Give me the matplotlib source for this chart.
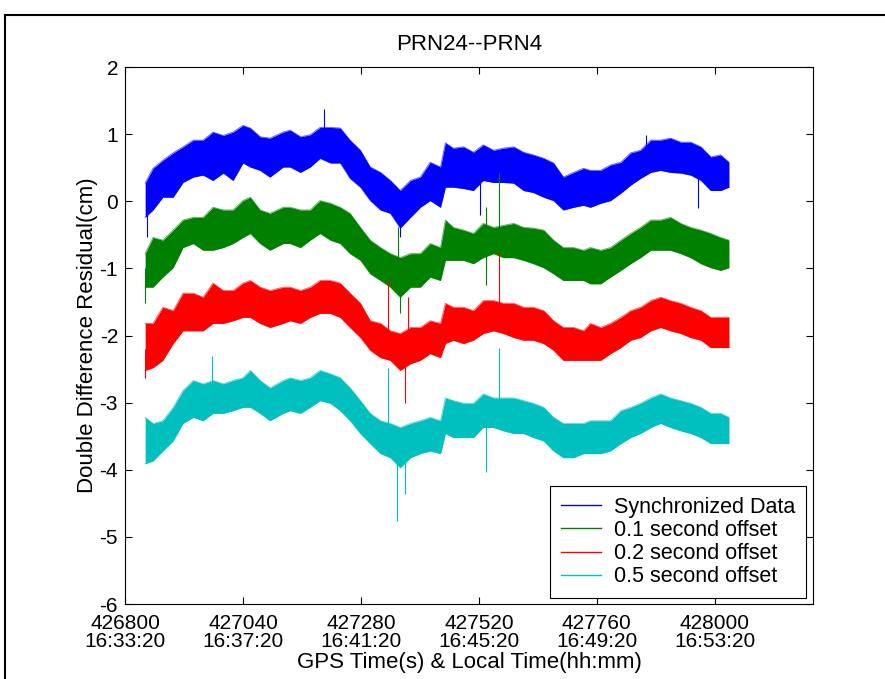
import matplotlib.pyplot as plt
from matplotlib.patches import Rectangle
import numpy as np

plt.rcParams['font.family'] = ['Liberation Sans', 'DejaVu Sans']
plt.rcParams['axes.unicode_minus'] = False

# GPS time (s) of the sampled columns
gps_time = [426841, 426857, 426877, 426898, 426918, 426939, 426959, 426979, 427000, 427020,
            427040, 427055, 427075, 427095, 427122, 427136, 427157, 427177, 427197, 427218,
            427238, 427258, 427279, 427299, 427320, 427340, 427360, 427381, 427401, 427421,
            427442, 427452, 427468, 427489, 427509, 427529, 427550, 427570, 427591, 427611,
            427631, 427652, 427672, 427692, 427713, 427733, 427747, 427768, 427788, 427809,
            427829, 427849, 427870, 427890, 427910, 427931, 427951, 427972, 427992, 428012,
            428029]

# upper / lower edge of each noisy band (cm)
sync_hi = [0.27, 0.49, 0.61, 0.72, 0.81, 0.91, 0.91, 1.03, 0.98, 1.03,
           1.13, 1.09, 0.96, 0.94, 1.03, 1.06, 0.96, 0.99, 1.10, 1.10,
           1.09, 0.91, 0.76, 0.51, 0.43, 0.31, 0.16, 0.31, 0.36, 0.58,
           0.51, 0.87, 0.79, 0.81, 0.73, 0.84, 0.76, 0.79, 0.81, 0.73,
           0.69, 0.64, 0.57, 0.36, 0.43, 0.49, 0.46, 0.46, 0.54, 0.58,
           0.72, 0.76, 0.91, 0.91, 0.94, 0.88, 0.88, 0.81, 0.66, 0.69,
           0.58]
sync_lo = [-0.24, -0.13, 0.06, 0.06, 0.28, 0.36, 0.39, 0.31, 0.42, 0.31,
           0.57, 0.51, 0.46, 0.36, 0.51, 0.51, 0.43, 0.51, 0.64, 0.57,
           0.57, 0.34, 0.21, 0.01, -0.13, -0.18, -0.40, -0.24, -0.09, 0.01,
           -0.09, 0.21, 0.21, 0.19, 0.16, 0.31, 0.28, 0.28, 0.27, 0.16,
           0.13, 0.06, 0.01, -0.13, -0.09, -0.06, -0.09, -0.03, 0.01, 0.12,
           0.24, 0.34, 0.43, 0.46, 0.43, 0.42, 0.39, 0.31, 0.16, 0.16,
           0.21]

off01_hi = [-0.78, -0.54, -0.58, -0.43, -0.28, -0.24, -0.24, -0.09, -0.13, -0.13,
            0.01, 0.06, -0.13, -0.18, -0.09, -0.09, -0.13, -0.13, 0.01, -0.03,
            -0.09, -0.18, -0.39, -0.58, -0.69, -0.78, -0.84, -0.78, -0.78, -0.63,
            -0.69, -0.28, -0.39, -0.43, -0.48, -0.33, -0.39, -0.36, -0.33, -0.39,
            -0.40, -0.43, -0.58, -0.69, -0.69, -0.73, -0.69, -0.73, -0.69, -0.58,
            -0.48, -0.39, -0.28, -0.28, -0.24, -0.33, -0.39, -0.43, -0.48, -0.54,
            -0.58]
off01_lo = [-1.28, -1.28, -1.13, -0.99, -0.69, -0.63, -0.73, -0.73, -0.69, -0.63,
            -0.54, -0.48, -0.63, -0.73, -0.63, -0.63, -0.69, -0.58, -0.48, -0.58,
            -0.63, -0.78, -0.88, -1.08, -1.18, -1.28, -1.43, -1.28, -1.28, -1.13,
            -1.18, -0.88, -0.88, -0.88, -0.93, -0.84, -0.78, -0.84, -0.84, -0.88,
            -0.93, -0.99, -1.08, -1.18, -1.18, -1.18, -1.23, -1.23, -1.13, -1.03,
            -0.93, -0.84, -0.73, -0.73, -0.73, -0.78, -0.84, -0.93, -0.99, -1.03,
            -0.99]

off02_hi = [-1.82, -1.82, -1.58, -1.63, -1.37, -1.37, -1.43, -1.22, -1.33, -1.33,
            -1.22, -1.18, -1.28, -1.33, -1.28, -1.28, -1.33, -1.28, -1.18, -1.18,
            -1.22, -1.37, -1.52, -1.78, -1.82, -1.93, -1.97, -1.88, -1.88, -1.78,
            -1.82, -1.52, -1.58, -1.58, -1.63, -1.48, -1.48, -1.52, -1.52, -1.58,
            -1.58, -1.63, -1.78, -1.88, -1.88, -1.93, -1.82, -1.88, -1.82, -1.73,
            -1.63, -1.58, -1.48, -1.43, -1.48, -1.52, -1.58, -1.63, -1.73, -1.73,
            -1.73]
off02_lo = [-2.52, -2.48, -2.37, -2.12, -1.93, -1.93, -1.93, -1.82, -1.82, -1.78,
            -1.73, -1.73, -1.82, -1.88, -1.82, -1.78, -1.82, -1.73, -1.67, -1.67,
            -1.73, -1.88, -2.03, -2.22, -2.33, -2.37, -2.52, -2.42, -2.37, -2.27,
            -2.33, -2.12, -2.07, -2.12, -2.07, -1.97, -1.93, -1.97, -2.03, -2.07,
            -2.07, -2.12, -2.22, -2.37, -2.37, -2.37, -2.37, -2.37, -2.27, -2.18,
            -2.07, -2.03, -1.93, -1.88, -1.93, -1.97, -2.03, -2.07, -2.18, -2.18,
            -2.18]

off05_hi = [-3.22, -3.31, -3.27, -3.07, -2.82, -2.67, -2.72, -2.67, -2.72, -2.67,
            -2.63, -2.52, -2.67, -2.78, -2.67, -2.63, -2.67, -2.63, -2.52, -2.57,
            -2.63, -2.78, -2.97, -3.16, -3.27, -3.31, -3.37, -3.31, -3.27, -3.22,
            -3.27, -2.93, -2.97, -3.01, -3.01, -2.87, -2.93, -2.93, -2.93, -2.97,
            -3.01, -3.07, -3.22, -3.31, -3.31, -3.31, -3.27, -3.27, -3.27, -3.12,
            -3.07, -3.01, -2.93, -2.87, -2.93, -2.97, -3.01, -3.07, -3.16, -3.16,
            -3.22]
off05_lo = [-3.91, -3.87, -3.72, -3.57, -3.31, -3.22, -3.27, -3.16, -3.16, -3.12,
            -3.07, -3.07, -3.16, -3.27, -3.16, -3.12, -3.16, -3.07, -2.97, -3.01,
            -3.12, -3.27, -3.46, -3.61, -3.76, -3.82, -3.97, -3.82, -3.76, -3.72,
            -3.76, -3.46, -3.52, -3.52, -3.52, -3.37, -3.37, -3.42, -3.46, -3.46,
            -3.52, -3.57, -3.72, -3.82, -3.82, -3.76, -3.76, -3.76, -3.72, -3.61,
            -3.52, -3.46, -3.37, -3.31, -3.37, -3.42, -3.46, -3.52, -3.61, -3.61,
            -3.61]

# isolated spikes: time, from, to
sync_spk_t = [426845, 427205, 427360, 427523, 427860, 427965]
sync_spk_a = [0.0, 0.8, -0.1, 0.3, 0.6, 0.4]
sync_spk_b = [-0.54, 1.37, -0.54, -0.21, 0.99, -0.1]
off01_spk_t = [426841, 427360, 427562, 427535, 427356]
off01_spk_a = [-1.0, -1.1, -0.6, -0.09, -1.0]
off01_spk_b = [-1.51, -1.66, 0.42, -1.25, -0.39]
off02_spk_t = [426841, 427370, 427562, 427336, 427375]
off02_spk_a = [-2.2, -2.2, -1.8, -2.0, -2.0]
off02_spk_b = [-2.63, -3.0, -0.76, -1.18, -1.43]
off05_spk_t = [427354, 427370, 427562, 427535, 427336, 426977]
off05_spk_a = [-3.6, -3.6, -3.2, -3.2, -3.5, -2.9]
off05_spk_b = [-4.76, -4.36, -2.19, -4.04, -2.48, -2.3]

tick_pos = [426800, 427040, 427280, 427520, 427760, 428000]
tick_lbl = ['426800\n16:33:20', '427040\n16:37:20', '427280\n16:41:20',
            '427520\n16:45:20', '427760\n16:49:20', '428000\n16:53:20']

series = [
    ('Synchronized Data', (0, 0, 1), sync_hi, sync_lo, sync_spk_t, sync_spk_a, sync_spk_b),
    ('0.1 second offset', (0, 0.5, 0), off01_hi, off01_lo, off01_spk_t, off01_spk_a, off01_spk_b),
    ('0.2 second offset', (1, 0, 0), off02_hi, off02_lo, off02_spk_t, off02_spk_a, off02_spk_b),
    ('0.5 second offset', (0, 0.75, 0.75), off05_hi, off05_lo, off05_spk_t, off05_spk_a, off05_spk_b),
]

fig = plt.figure(figsize=(8.85, 6.79), dpi=100)
ax = fig.add_axes([125/885, 75/679, 688/885, 537/679])

t = np.array(gps_time)
for name, col, hi, lo, st, sa, sb in series:
    ax.fill_between(t, lo, hi, color=col, lw=0)
    ax.plot(t, hi, color=col, lw=0.7, alpha=0.6, label=name)
    ax.plot(t, lo, color=col, lw=0.7, alpha=0.6)
    ax.vlines(st, sa, sb, color=col, lw=0.8)

ax.set_xlim(426800, 428200)
ax.set_ylim(-6, 2)
ax.set_yticks(range(-6, 3))
ax.set_xticks(tick_pos)
ax.set_xticklabels(tick_lbl)
for lbl in ax.get_xticklabels():
    lbl.set_linespacing(0.92)
ax.tick_params(direction='in', length=5, width=0.8, labelsize=15, top=True, right=True)
ax.tick_params(axis='x', pad=7.5)
ax.tick_params(axis='y', pad=5)
for sp in ax.spines.values():
    sp.set_linewidth(0.8)

ax.set_title('PRN24--PRN4', fontsize=16, pad=12)
ax.set_xlabel('GPS Time(s) & Local Time(hh:mm)', fontsize=16, labelpad=0.5)
ax.set_ylabel('Double Difference Residual(cm)', fontsize=16, labelpad=1)

leg = ax.legend(loc='lower right', bbox_to_anchor=(0.9898, 0.011), borderaxespad=0,
                fontsize=15.5, handlelength=1.85, handletextpad=0.6, labelspacing=0.1,
                borderpad=0.5, fancybox=False, framealpha=1, edgecolor='black')
leg.get_frame().set_linewidth(0.8)
for h in leg.get_lines():
    h.set_linewidth(1.0)
    h.set_alpha(1)

# outer frame of the exported figure
fig.patches.append(Rectangle((5/885, -0.05), 1.1, 1.05 - 15/679, transform=fig.transFigure,
                             fill=False, lw=1.5, ec='black'))

fig.savefig('out.png', dpi=100)
